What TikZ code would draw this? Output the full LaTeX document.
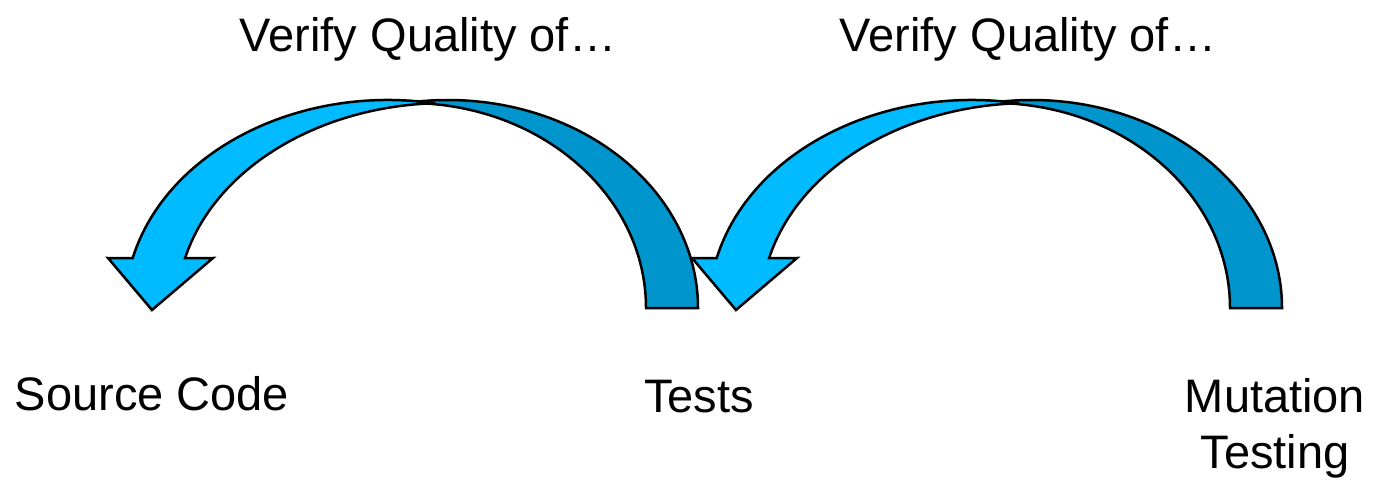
\documentclass[tikz,border=0pt]{standalone}
\usepackage{fontspec}
\setmainfont{Liberation Sans}
\usepackage{tikz}
\usetikzlibrary{calc, positioning}
\definecolor{LB}{RGB}{0,187,255}
\definecolor{DB}{RGB}{0,149,204}
\begin{document}
\begin{tikzpicture}[
  x=1pt, y=1pt,
  band/.style={draw=black, line width=2.5pt, line join=miter, fill=#1},
  lbl/.style={font=\fontsize{47}{56}\selectfont, inner sep=0pt, anchor=base, align=center}
]
\useasboundingbox (0,0) rectangle (1375,480);

% Curved arrows: dark back side, then light front with head
\foreach \dx in {0,584}{
  \begin{scope}[xshift=\dx]
    \coordinate (dout) at (448,172);
    \coordinate (din)  at (409,172);
    \coordinate (lout) at (388,172);
    \coordinate (lin)  at (446,172);
    \draw[band=DB] ([shift={(250,0)}]dout)
      arc[start angle=0, end angle=100, x radius=250pt, y radius=208pt]
      -- ([shift={(0,205)}]din)
      arc[start angle=90, end angle=0, x radius=237pt, y radius=205pt] -- cycle;
    \draw[band=LB] ([shift={(80:263pt and 208pt)}]lout)
      arc[start angle=80, end angle=166.1, x radius=263pt, y radius=208pt]
      -- (108,222) -- (152,170) -- (213,222)
      -- ([shift={(165.9:269pt and 205pt)}]lin)
      arc[start angle=165.9, end angle=92.3, x radius=269pt, y radius=205pt] -- cycle;
  \end{scope}
}

% Labels
\node[lbl] (verA) at (428,428) {Verify Quality of…};
\node[lbl] (verB) at (1028,428) {Verify Quality of…};
\node[lbl] (src)  at (152,70) {Source Code};
\node[lbl] (tst)  at (699,68) {Tests};
\node[lbl] (mut)  at (1275,12) {Mutation\\Testing};
\end{tikzpicture}
\end{document}
